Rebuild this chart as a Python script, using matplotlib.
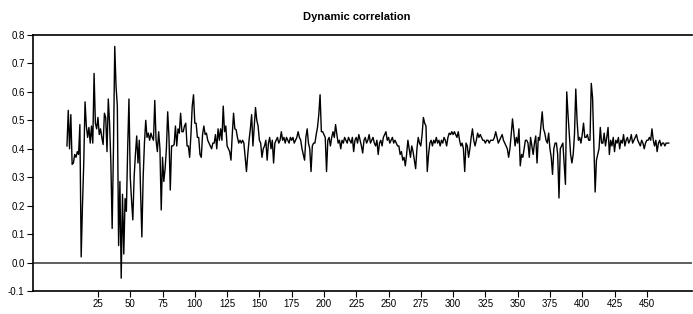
import matplotlib
matplotlib.use("Agg")
import matplotlib.pyplot as plt
import numpy as np

title = "Dynamic correlation"
xticks = [25, 50, 75, 100, 125, 150, 175, 200, 225, 250, 275, 300, 325, 350, 375, 400, 425, 450]
yticks = [-0.1, 0.0, 0.1, 0.2, 0.3, 0.4, 0.5, 0.6, 0.7, 0.8]

corr_001_100 = [
    0.41, 0.535, 0.40, 0.52, 0.345, 0.35, 0.38, 0.37, 0.39, 0.38,
    0.485, 0.02, 0.20, 0.35, 0.565, 0.48, 0.44, 0.475, 0.42, 0.48,
    0.42, 0.665, 0.49, 0.47, 0.51, 0.45, 0.47, 0.44, 0.415, 0.525,
    0.51, 0.39, 0.575, 0.49, 0.35, 0.12, 0.40, 0.76, 0.62, 0.55,
    0.06, 0.285, -0.055, 0.24, 0.03, 0.225, 0.18, 0.40, 0.575, 0.30,
    0.22, 0.15, 0.30, 0.38, 0.445, 0.35, 0.43, 0.25, 0.09, 0.30,
    0.42, 0.50, 0.44, 0.455, 0.43, 0.455, 0.44, 0.43, 0.57, 0.43,
    0.39, 0.46, 0.40, 0.185, 0.37, 0.285, 0.33, 0.40, 0.53, 0.44,
    0.255, 0.41, 0.41, 0.415, 0.48, 0.41, 0.47, 0.455, 0.525, 0.46,
    0.46, 0.48, 0.49, 0.41, 0.41, 0.37, 0.45, 0.55, 0.59, 0.49,
]
corr_101_200 = [
    0.49, 0.44, 0.44, 0.38, 0.37, 0.45, 0.48, 0.45, 0.455, 0.43,
    0.42, 0.41, 0.40, 0.42, 0.42, 0.45, 0.40, 0.47, 0.43, 0.47,
    0.43, 0.55, 0.46, 0.48, 0.41, 0.40, 0.39, 0.36, 0.45, 0.525,
    0.47, 0.467, 0.44, 0.42, 0.43, 0.42, 0.43, 0.42, 0.37, 0.32,
    0.38, 0.43, 0.47, 0.52, 0.41, 0.48, 0.545, 0.50, 0.48, 0.43,
    0.42, 0.37, 0.40, 0.41, 0.43, 0.36, 0.42, 0.44, 0.40, 0.43,
    0.35, 0.42, 0.43, 0.44, 0.42, 0.43, 0.46, 0.43, 0.44, 0.42,
    0.44, 0.43, 0.42, 0.44, 0.43, 0.44, 0.42, 0.43, 0.44, 0.46,
    0.44, 0.43, 0.40, 0.38, 0.36, 0.44, 0.47, 0.42, 0.40, 0.32,
    0.41, 0.42, 0.42, 0.45, 0.475, 0.52, 0.59, 0.46, 0.46, 0.45,
]
corr_201_300 = [
    0.44, 0.32, 0.43, 0.44, 0.41, 0.44, 0.46, 0.44, 0.485, 0.45,
    0.42, 0.43, 0.40, 0.43, 0.42, 0.44, 0.43, 0.42, 0.44, 0.43,
    0.42, 0.44, 0.39, 0.43, 0.44, 0.42, 0.45, 0.43, 0.41, 0.385,
    0.43, 0.44, 0.42, 0.43, 0.45, 0.42, 0.43, 0.44, 0.42, 0.41,
    0.43, 0.38, 0.42, 0.43, 0.41, 0.44, 0.45, 0.46, 0.43, 0.44,
    0.42, 0.43, 0.44, 0.42, 0.43, 0.42, 0.41, 0.41, 0.38, 0.39,
    0.36, 0.37, 0.34, 0.38, 0.43, 0.40, 0.37, 0.41, 0.39, 0.36,
    0.33, 0.40, 0.44, 0.42, 0.41, 0.45, 0.51, 0.49, 0.48, 0.32,
    0.38, 0.42, 0.43, 0.41, 0.43, 0.42, 0.44, 0.42, 0.43, 0.41,
    0.43, 0.42, 0.44, 0.43, 0.41, 0.44, 0.455, 0.45, 0.46, 0.45,
]
corr_301_400 = [
    0.46, 0.45, 0.44, 0.46, 0.43, 0.41, 0.42, 0.40, 0.32, 0.42,
    0.41, 0.37, 0.40, 0.44, 0.47, 0.43, 0.41, 0.43, 0.455, 0.44,
    0.45, 0.44, 0.43, 0.43, 0.42, 0.43, 0.43, 0.42, 0.43, 0.43,
    0.43, 0.44, 0.46, 0.44, 0.42, 0.43, 0.44, 0.45, 0.43, 0.42,
    0.41, 0.40, 0.37, 0.40, 0.45, 0.505, 0.46, 0.41, 0.44, 0.42,
    0.47, 0.34, 0.38, 0.37, 0.40, 0.43, 0.43, 0.42, 0.37, 0.44,
    0.41, 0.38, 0.42, 0.445, 0.35, 0.44, 0.43, 0.48, 0.53, 0.47,
    0.455, 0.43, 0.42, 0.455, 0.40, 0.37, 0.31, 0.40, 0.42, 0.42,
    0.38, 0.227, 0.40, 0.41, 0.42, 0.35, 0.275, 0.60, 0.52, 0.45,
    0.38, 0.35, 0.38, 0.45, 0.61, 0.50, 0.43, 0.44, 0.42, 0.45,
]
corr_401_467 = [
    0.49, 0.44, 0.44, 0.45, 0.43, 0.43, 0.63, 0.58, 0.42, 0.248,
    0.36, 0.38, 0.40, 0.475, 0.42, 0.42, 0.455, 0.41, 0.44, 0.475,
    0.38, 0.43, 0.41, 0.44, 0.39, 0.43, 0.42, 0.44, 0.40, 0.43,
    0.42, 0.45, 0.41, 0.43, 0.44, 0.42, 0.43, 0.45, 0.42, 0.43,
    0.44, 0.45, 0.43, 0.42, 0.41, 0.43, 0.42, 0.40, 0.42, 0.43,
    0.43, 0.44, 0.43, 0.47, 0.43, 0.41, 0.43, 0.39, 0.42, 0.43,
    0.41, 0.42, 0.42, 0.41, 0.42, 0.42, 0.42,
]

values = corr_001_100 + corr_101_200 + corr_201_300 + corr_301_400 + corr_401_467
obs = np.arange(1, len(values) + 1)

plt.rcParams['font.family'] = ['Liberation Sans', 'DejaVu Sans']

W, H = 693, 314
fig = plt.figure(figsize=(W / 100, H / 100), dpi=100)
ax = fig.add_axes([33 / W, (H - 291) / H, (692 - 33) / W, (291 - 35) / H])

ax.plot(obs, values, color='black', lw=1.0)
ax.axhline(0.0, color='#444444', lw=1.2, zorder=1)

ax.set_xlim(-25.3, 485.0)
ax.set_ylim(-0.1, 0.8)
ax.set_xticks(xticks)
ax.set_xticklabels([str(t) for t in xticks])
ax.set_yticks(yticks)
ax.set_yticklabels([f"{t:.1f}" for t in yticks])
ax.tick_params(axis='both', direction='out', length=4, width=0.8, labelsize=7, pad=2, color='black')
ax.tick_params(axis='x', top=False)
ax.tick_params(axis='y', right=False)
for s in ['top', 'bottom', 'left']:
    ax.spines[s].set_linewidth(1.2)
ax.spines['right'].set_visible(False)

fig.text(357 / W, 1 - 17 / H, title, ha='center', va='center', fontsize=8, fontweight='bold')

fig.savefig('out.png', dpi=100)
